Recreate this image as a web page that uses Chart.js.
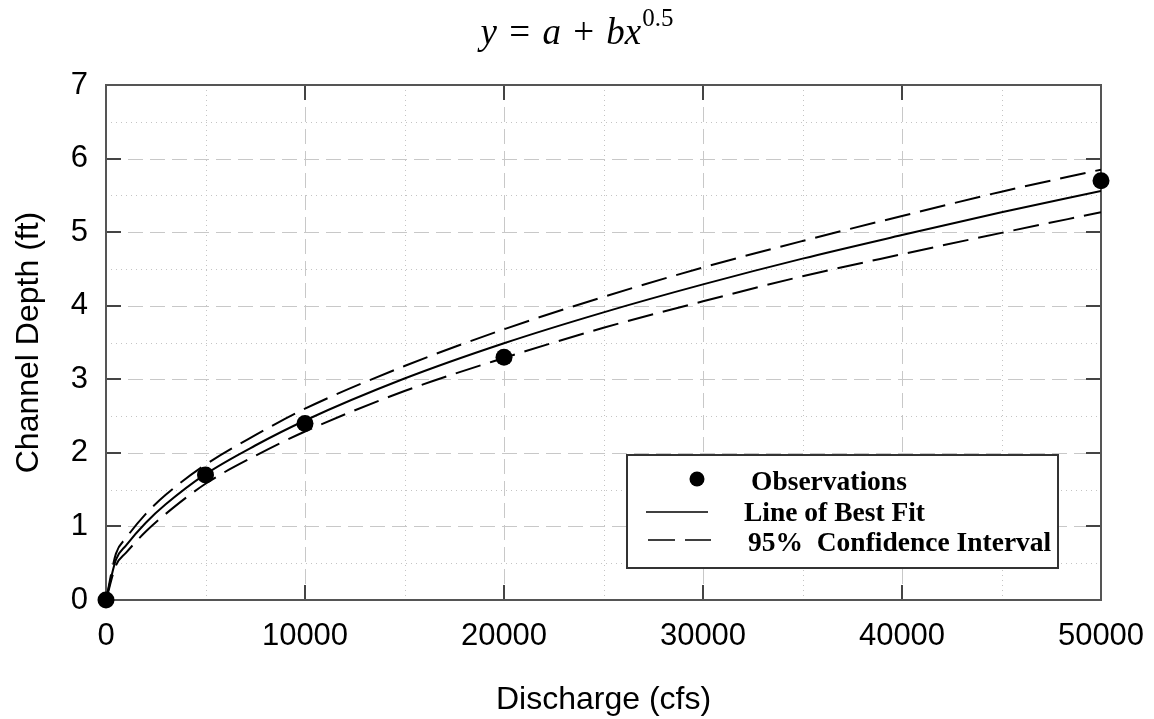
<!DOCTYPE html>
<html><head><meta charset="utf-8">
<script src="https://cdn.jsdelivr.net/npm/chart.js@4/dist/chart.umd.min.js"></script>
<style>
html,body{margin:0;padding:0;background:#fff;}
#wrap{position:relative;width:1154px;height:719px;overflow:hidden;}
#c{position:absolute;left:0;top:0;}
#title{position:absolute;left:0;top:13px;width:1154px;text-align:center;font-family:"Liberation Serif";font-size:37px;line-height:37px;color:#000;white-space:nowrap;}
#title .op{padding:0 3px;}
#title sup{font-size:25px;font-style:normal;vertical-align:baseline;position:relative;top:-18px;margin-left:1px;}
</style></head>
<body>
<div id="wrap">
<canvas id="c" width="1154" height="719"></canvas>
<div id="title"><i>y</i> <span class="op">=</span> <i>a</i> <span class="op">+</span> <i>bx</i><sup>0.5</sup></div>
</div>
<script>
// ---- data ----
const xTickValues = [0, 10000, 20000, 30000, 40000, 50000];
const xTickLabels = ['0', '10000', '20000', '30000', '40000', '50000'];
const xMajorGrid = [10000, 20000, 30000, 40000];
const xMinorGrid = [5000, 15000, 25000, 35000, 45000];
const yMajorGrid = [1, 2, 3, 4, 5, 6];
const yMinorGrid = [0.5, 1.5, 2.5, 3.5, 4.5, 5.5, 6.5];

const obsX = [0, 5000, 10000, 20000, 50000];
const obsY = [0, 1.7, 2.4, 3.3, 5.7];

const fitX   = [0, 500, 1000, 2000, 3000, 5000, 7500, 10000, 15000, 20000, 25000, 30000, 35000, 40000, 45000, 50000];
const fitY   = [0, 0.55, 0.74, 1.05, 1.30, 1.71, 2.10, 2.44, 3.01, 3.49, 3.91, 4.29, 4.64, 4.96, 5.27, 5.56];
const upperY = [0, 0.63, 0.84, 1.17, 1.43, 1.84, 2.24, 2.60, 3.18, 3.68, 4.12, 4.52, 4.88, 5.22, 5.55, 5.85];
const lowerY = [0, 0.47, 0.64, 0.93, 1.17, 1.58, 1.96, 2.29, 2.84, 3.29, 3.70, 4.06, 4.40, 4.70, 4.99, 5.27];

const seriesLabels = ['Observations', 'Line of Best Fit', '95%  Confidence Interval'];
// --------------------------------------

const toXY = (xs, ys) => xs.map((x, i) => ({x: x, y: ys[i]}));
const SANS = '"Liberation Sans", Arial, sans-serif';
const SERIF = '"Liberation Serif", "Times New Roman", serif';
const CI_DASH = [26, 10];

const gridPlugin = {
  id: 'customGrid',
  beforeDatasetsDraw(chart) {
    const {ctx, chartArea: a, scales: {x, y}} = chart;
    ctx.save();
    ctx.beginPath(); ctx.rect(a.left, a.top, a.right - a.left, a.bottom - a.top); ctx.clip();
    ctx.lineWidth = 1;
    ctx.strokeStyle = '#c4c4c4'; ctx.setLineDash([1, 4]);
    xMinorGrid.forEach(v => { const p = Math.round(x.getPixelForValue(v)) + 0.5; ctx.beginPath(); ctx.moveTo(p, a.top); ctx.lineTo(p, a.bottom); ctx.stroke(); });
    yMinorGrid.forEach(v => { const p = Math.round(y.getPixelForValue(v)) + 0.5; ctx.beginPath(); ctx.moveTo(a.left, p); ctx.lineTo(a.right, p); ctx.stroke(); });
    ctx.strokeStyle = '#c8c8c8'; ctx.setLineDash([15, 7]);
    xMajorGrid.forEach(v => { const p = Math.round(x.getPixelForValue(v)) + 0.5; ctx.beginPath(); ctx.moveTo(p, a.top); ctx.lineTo(p, a.bottom); ctx.stroke(); });
    yMajorGrid.forEach(v => { const p = Math.round(y.getPixelForValue(v)) + 0.5; ctx.beginPath(); ctx.moveTo(a.left, p); ctx.lineTo(a.right, p); ctx.stroke(); });
    ctx.restore();
    ctx.save();
    ctx.strokeStyle = '#444'; ctx.lineWidth = 2; ctx.setLineDash([]);
    const TL = 15;
    xMajorGrid.forEach(v => { const p = Math.round(x.getPixelForValue(v));
      ctx.beginPath(); ctx.moveTo(p, a.bottom); ctx.lineTo(p, a.bottom - TL); ctx.stroke();
      ctx.beginPath(); ctx.moveTo(p, a.top); ctx.lineTo(p, a.top + TL); ctx.stroke(); });
    yMajorGrid.forEach(v => { const p = Math.round(y.getPixelForValue(v));
      ctx.beginPath(); ctx.moveTo(a.left, p); ctx.lineTo(a.left + TL, p); ctx.stroke();
      ctx.beginPath(); ctx.moveTo(a.right, p); ctx.lineTo(a.right - TL, p); ctx.stroke(); });
    ctx.strokeStyle = '#555';
    ctx.strokeRect(a.left, a.top, a.right - a.left, a.bottom - a.top);
    ctx.restore();
  }
};

const legendPlugin = {
  id: 'boxLegend',
  afterDatasetsDraw(chart) {
    const ctx = chart.ctx;
    const ds = chart.data.datasets;
    const L = 627, T = 455, W = 431, H = 113;
    ctx.save();
    ctx.fillStyle = '#fff'; ctx.fillRect(L, T, W, H);
    ctx.strokeStyle = '#333'; ctx.lineWidth = 2; ctx.setLineDash([]); ctx.strokeRect(L, T, W, H);
    ctx.fillStyle = '#000';
    ctx.font = 'bold 27.5px ' + SERIF;
    ctx.textBaseline = 'alphabetic'; ctx.textAlign = 'left';
    ctx.beginPath(); ctx.arc(697, 479, 7.5, 0, Math.PI * 2); ctx.fill();
    ctx.fillText(ds[0].label, 751, 490);
    ctx.strokeStyle = '#000'; ctx.lineWidth = 1.5;
    ctx.beginPath(); ctx.moveTo(646, 512); ctx.lineTo(708, 512); ctx.stroke();
    ctx.fillText(ds[1].label, 744, 521);
    ctx.beginPath(); ctx.moveTo(648, 540); ctx.lineTo(675, 540); ctx.moveTo(685, 540); ctx.lineTo(711, 540); ctx.stroke();
    ctx.fillText(ds[2].label, 748, 551);
    ctx.restore();
  }
};

new Chart(document.getElementById('c'), {
  type: 'scatter',
  data: {
    datasets: [
      { label: seriesLabels[0], data: toXY(obsX, obsY), showLine: false, pointRadius: 8.5, pointHoverRadius: 8.5,
        backgroundColor: '#000', borderColor: '#000', borderWidth: 0, clip: false, order: 0 },
      { label: seriesLabels[1], data: toXY(fitX, fitY), showLine: true, pointRadius: 0, borderColor: '#000',
        borderWidth: 2, cubicInterpolationMode: 'monotone', order: 1 },
      { label: seriesLabels[2], data: toXY(fitX, upperY), showLine: true, pointRadius: 0, borderColor: '#000',
        borderWidth: 2, borderDash: CI_DASH, cubicInterpolationMode: 'monotone', order: 2 },
      { label: seriesLabels[2], data: toXY(fitX, lowerY), showLine: true, pointRadius: 0, borderColor: '#000',
        borderWidth: 2, borderDash: CI_DASH, cubicInterpolationMode: 'monotone', order: 3 }
    ]
  },
  options: {
    responsive: false, animation: false, devicePixelRatio: 1,
    layout: { padding: { left: 0, top: 85, right: 53, bottom: 0 } },
    plugins: { legend: { display: false }, tooltip: { enabled: false }, title: { display: false } },
    scales: {
      x: {
        type: 'linear', position: 'bottom', min: 0, max: 50000,
        afterFit(s) { s.height = 119; s.paddingLeft = 0; s.paddingRight = 0; },
        afterBuildTicks(s) { s.ticks = xTickValues.map(v => ({ value: v })); },
        ticks: { callback: (v, i) => xTickLabels[i], autoSkip: false, maxRotation: 0, minRotation: 0,
                 padding: 18, color: '#000', font: { family: SANS, size: 31, lineHeight: 1.2 } },
        grid: { display: false, drawTicks: false }, border: { display: false },
        title: { display: true, text: 'Discharge (cfs)', color: '#000', padding: { top: 0, bottom: 0 },
                 font: { family: SANS, size: 32, lineHeight: 1.2 } }
      },
      y: {
        type: 'linear', position: 'left', min: 0, max: 7,
        afterFit(s) { s.width = 106; },
        ticks: { stepSize: 1, padding: 18, color: '#000', font: { family: SANS, size: 31, lineHeight: 1.2 } },
        grid: { display: false, drawTicks: false }, border: { display: false },
        title: { display: true, text: 'Channel Depth (ft)', color: '#000', padding: { top: 10, bottom: 0 },
                 font: { family: SANS, size: 32, lineHeight: 1.2 } }
      }
    }
  },
  plugins: [gridPlugin, legendPlugin]
});
</script>
</body></html>
